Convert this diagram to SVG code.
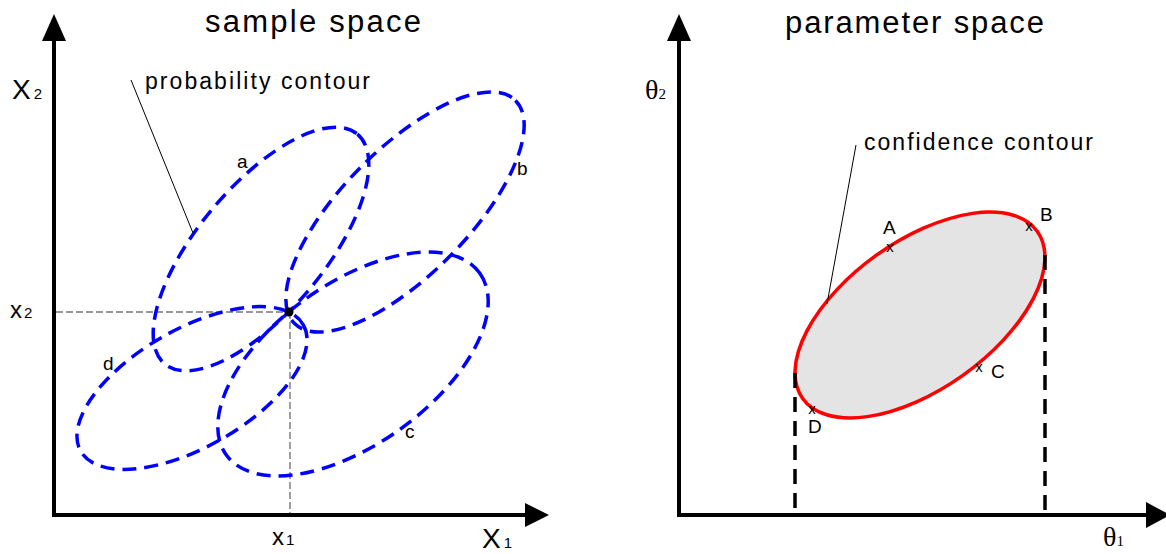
<svg xmlns="http://www.w3.org/2000/svg" width="1166" height="554" viewBox="0 0 1166 554">
<style>
text{font-family:"Liberation Sans",Arial,sans-serif;fill:#000}
.title{font-size:31px}
.note{font-size:23px}
.lab{font-size:19px}
.ax{font-size:28px}
.axs{font-size:24px}
.sub{font-size:15px}
.th{font-family:"Liberation Serif","Times New Roman",serif;font-size:28px}
.ths{font-family:"Liberation Serif","Times New Roman",serif;font-size:15px}
.mk{font-size:15px}
.axis{stroke:#000;stroke-width:4;fill:none}
.head{fill:#000}
.cross{stroke:#777;stroke-width:1.4;stroke-dasharray:7 3;fill:none}
.contour{fill:none;stroke:#0000ff;stroke-width:3.5;stroke-dasharray:14 8}
.conf{fill:#e4e4e4;stroke:#ff0000;stroke-width:3.5}
.proj{stroke:#000;stroke-width:3.5;stroke-dasharray:15 9;fill:none}
.leader{stroke:#000;stroke-width:1;fill:none}
</style>

<g id="sample-space">
  <text class="title" x="205" y="32" textLength="216" lengthAdjust="spacing">sample space</text>
  <g id="axes-left">
    <line class="axis" x1="54" y1="38" x2="54" y2="515"/>
    <line class="axis" x1="52" y1="515" x2="528" y2="515"/>
    <polygon class="head" points="42,41 66,41 54,14"/>
    <polygon class="head" points="525,503 525,527 549,515"/>
    <text class="ax" x="12" y="99">X<tspan class="sub" dx="3">2</tspan></text>
    <text class="axs" x="10" y="318">x<tspan class="sub" dx="2">2</tspan></text>
    <text class="axs" x="272" y="545">x<tspan class="sub" dx="2">1</tspan></text>
    <text class="ax" x="482" y="548">X<tspan class="sub" dx="3">1</tspan></text>
  </g>
  <g id="crosshair">
    <line class="cross" x1="56" y1="312" x2="289" y2="312"/>
    <line class="cross" x1="290" y1="312" x2="290" y2="513"/>
  </g>
  <g id="ellipse-a">
    <ellipse class="contour" cx="261" cy="249" rx="150" ry="63" transform="rotate(-50 261 249)"/>
    <text class="lab" x="237" y="168">a</text>
  </g>
  <g id="ellipse-b">
    <ellipse class="contour" cx="405" cy="212" rx="157" ry="63" transform="rotate(-45.3 405 212)"/>
    <text class="lab" x="517" y="175">b</text>
  </g>
  <g id="ellipse-c">
    <ellipse class="contour" cx="353" cy="364" rx="156" ry="80.5" transform="rotate(-35.6 353 364)"/>
    <text class="lab" x="405" y="438">c</text>
  </g>
  <g id="ellipse-d">
    <ellipse class="contour" cx="192" cy="388" rx="128" ry="59" transform="rotate(-29.6 192 388)"/>
    <text class="lab" x="103" y="370">d</text>
  </g>
  <g id="observation">
    <circle cx="289" cy="312" r="4.5" fill="#000"/>
  </g>
  <g id="probability-contour-label">
    <text class="note" x="145" y="89" textLength="225" lengthAdjust="spacing">probability contour</text>
  </g>
</g>

<g id="parameter-space">
  <text class="title" x="785" y="33" textLength="259" lengthAdjust="spacing">parameter space</text>
  <g id="axes-right">
    <line class="axis" x1="679" y1="38" x2="679" y2="515"/>
    <line class="axis" x1="677" y1="515" x2="1150" y2="515"/>
    <polygon class="head" points="667,41 691,41 679,14"/>
    <polygon class="head" points="1146,502 1146,528 1170,515"/>
    <text class="th" x="645" y="99">θ<tspan class="ths">2</tspan></text>
    <text class="th" x="1103" y="546">θ<tspan class="ths">1</tspan></text>
  </g>
  <g id="confidence-region">
    <ellipse class="conf" cx="920" cy="315" rx="144" ry="74" transform="rotate(-35.4 920 315)"/>
  </g>
  <g id="projections">
    <line class="proj" x1="795" y1="373" x2="795" y2="514"/>
    <line class="proj" x1="1045" y1="255" x2="1045" y2="514"/>
  </g>
  <g id="point-A">
    <text class="mk" x="890" y="252" text-anchor="middle">x</text>
    <text class="lab" x="883" y="234">A</text>
  </g>
  <g id="point-B">
    <text class="mk" x="1029" y="231" text-anchor="middle">x</text>
    <text class="lab" x="1040" y="221">B</text>
  </g>
  <g id="point-C">
    <text class="mk" x="979" y="372" text-anchor="middle">x</text>
    <text class="lab" x="991" y="378">C</text>
  </g>
  <g id="point-D">
    <text class="mk" x="812" y="414" text-anchor="middle">x</text>
    <text class="lab" x="808" y="433">D</text>
  </g>
  <g id="confidence-contour-label">
    <text class="note" x="864" y="150" textLength="229" lengthAdjust="spacing">confidence contour</text>
  </g>
</g>

<g id="connectors">
  <line class="leader" x1="131" y1="80" x2="193" y2="233"/>
  <line class="leader" x1="856" y1="145" x2="827" y2="304"/>
</g>
</svg>
